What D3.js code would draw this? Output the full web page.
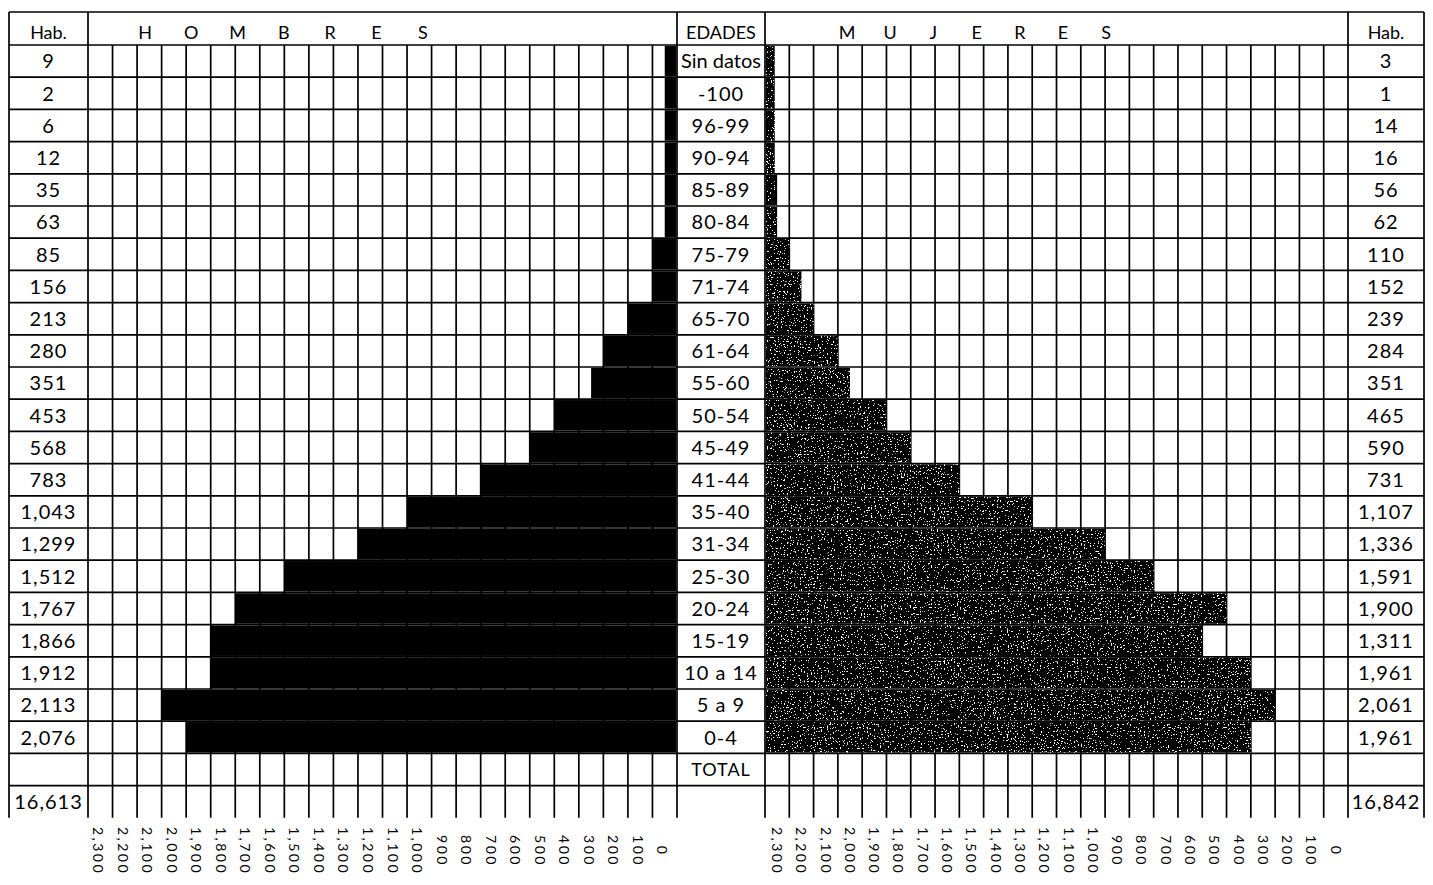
<!DOCTYPE html>
<html>
<head>
<meta charset="utf-8">
<script src="https://cdn.jsdelivr.net/npm/d3@7"></script>
<style>
    body { margin: 0; background: #fff; }
    text { font-family: Lato, "Open Sans", sans-serif; font-weight: 400; fill: #000; }
</style>
</head>
<body>
<div id="chart"></div>
<script>
// grupos de edad (de arriba hacia abajo)
var ages = ["Sin datos", "-100", "96-99", "90-94", "85-89", "80-84", "75-79", "71-74", "65-70",
    "61-64", "55-60", "50-54", "45-49", "41-44", "35-40", "31-34", "25-30", "20-24", "15-19",
    "10 a 14", "5 a 9", "0-4"];

// habitantes escritos en las columnas Hab.
var menHab = [9, 2, 6, 12, 35, 63, 85, 156, 213, 280, 351, 453, 568, 783, 1043, 1299, 1512,
    1767, 1866, 1912, 2113, 2076];
var womenHab = [3, 1, 14, 16, 56, 62, 110, 152, 239, 284, 351, 465, 590, 731, 1107, 1336, 1591,
    1900, 1311, 1961, 2061, 1961];

// largo de las barras tal como estan dibujadas
var menBar = [50, 50, 50, 50, 50, 50, 100, 100, 200, 300, 350, 500, 600, 800, 1100, 1300, 1600,
    1800, 1900, 1900, 2100, 2000];
var womenBar = [40, 40, 40, 40, 50, 50, 100, 150, 200, 300, 350, 500, 600, 800, 1100, 1400, 1600,
    1900, 1800, 2000, 2100, 2000];

var menTotal = 16613;
var womenTotal = 16842;

// etiquetas de la escala inferior
var tickLabels = [2300, 2200, 2100, 2000, 1900, 1800, 1700, 1600, 1500, 1400, 1300, 1200, 1100,
    1000, 900, 800, 700, 600, 500, 400, 300, 200, 100, 0];

(function() {
    var W = 1433, H = 885;
    var left = 9, habW = 79, centerL = 677, centerR = 765, rightHab = 1348, right = 1424;
    var topY = 12, headH = 33, rowH = 32.2;
    var lw = 1.7;
    var fmt = d3.format(",");

    var svg = d3.select("#chart").append("svg")
        .attr("width", W)
        .attr("height", H);

    // textura de la mitad mujeres
    var defs = svg.append("defs");
    var filter = defs.append("filter").attr("id", "speckle")
        .attr("x", 0).attr("y", 0).attr("width", 1).attr("height", 1);
    filter.append("feTurbulence").attr("type", "fractalNoise").attr("baseFrequency", 0.7)
        .attr("numOctaves", 2).attr("seed", 7).attr("result", "n");
    filter.append("feColorMatrix").attr("in", "n").attr("type", "matrix")
        .attr("values", "0 0 0 0 1  0 0 0 0 1  0 0 0 0 1  0 0 0 -24 8.3").attr("result", "spots");
    filter.append("feComposite").attr("in", "spots").attr("in2", "SourceGraphic").attr("operator", "atop");

    // escalas
    var xMen = d3.scaleLinear().domain([0, 2400]).range([centerL, left + habW]);
    var xWomen = d3.scaleLinear().domain([0, 2400]).range([centerR, rightHab]);
    var rows = ages.concat(["TOTAL"]);
    var y = d3.scaleBand().domain(rows).range([topY + headH, topY + headH + rows.length * rowH]);
    var gridTop = topY + headH;
    var gridBottom = y.range()[1];
    var bottomRow = gridBottom + rowH;

    var cols = d3.range(0, 2401, 100);

    // cuadricula
    var grid = svg.append("g").attr("class", "grid")
        .attr("stroke", "#000").attr("stroke-width", lw).attr("fill", "none");

    // lineas horizontales
    var hLines = [topY, gridTop].concat(rows.map(function(d) { return y(d) + y.bandwidth(); }));
    grid.selectAll(".h")
        .data(hLines)
        .enter()
        .append("line")
        .attr("class", "h")
        .attr("x1", left).attr("x2", right)
        .attr("y1", function(d) { return d; }).attr("y2", function(d) { return d; });

    // lineas verticales de los paneles
    grid.selectAll(".vm")
        .data(cols.slice(1, -1))
        .enter()
        .append("line")
        .attr("class", "vm")
        .attr("x1", function(d) { return xMen(d); }).attr("x2", function(d) { return xMen(d); })
        .attr("y1", gridTop).attr("y2", bottomRow);
    grid.selectAll(".vw")
        .data(cols.slice(1, -1))
        .enter()
        .append("line")
        .attr("class", "vw")
        .attr("x1", function(d) { return xWomen(d); }).attr("x2", function(d) { return xWomen(d); })
        .attr("y1", gridTop).attr("y2", bottomRow);

    // bordes principales
    grid.selectAll(".vb")
        .data([left, left + habW, centerL, centerR, rightHab, right])
        .enter()
        .append("line")
        .attr("class", "vb")
        .attr("x1", function(d) { return d; }).attr("x2", function(d) { return d; })
        .attr("y1", topY).attr("y2", bottomRow);

    //barras hombres (negro)
    svg.append("g")
        .attr("class", "men")
        .selectAll("rect")
        .data(ages)
        .enter()
        .append("rect")
        .attr("x", function(d, i) { return xMen(menBar[i]); })
        .attr("y", function(d) { return y(d) + lw / 2; })
        .attr("width", function(d, i) { return xMen(0) - xMen(menBar[i]) - lw / 2; })
        .attr("height", y.bandwidth() - lw)
        .attr("fill", "#000");

    //barras mujeres (negro punteado)
    svg.append("g")
        .attr("class", "women")
        .attr("filter", "url(#speckle)")
        .selectAll("rect")
        .data(ages)
        .enter()
        .append("rect")
        .attr("x", xWomen(0) + lw / 2)
        .attr("y", function(d) { return y(d) + lw / 2; })
        .attr("width", function(d, i) { return xWomen(womenBar[i]) - xWomen(0) - lw / 2; })
        .attr("height", y.bandwidth() - lw)
        .attr("fill", "#000");

    // encabezado
    var head_g = svg.append("g").attr("class", "head").style("font-size", "18px");
    head_g.append("text").attr("x", left + habW / 2).attr("y", topY + 27)
        .attr("text-anchor", "middle").text("Hab.");
    head_g.append("text").attr("x", (rightHab + right) / 2).attr("y", topY + 27)
        .attr("text-anchor", "middle").text("Hab.");
    head_g.append("text").attr("x", (centerL + centerR) / 2).attr("y", topY + 27)
        .attr("text-anchor", "middle").text("EDADES");

    head_g.selectAll(".hm")
        .data("HOMBRES".split(""))
        .enter()
        .append("text")
        .attr("class", "hm")
        .attr("x", function(d, i) { return 145 + i * 46.3; })
        .attr("y", topY + 27)
        .attr("text-anchor", "middle")
        .text(function(d) { return d; });
    head_g.selectAll(".mu")
        .data("MUJERES".split(""))
        .enter()
        .append("text")
        .attr("class", "mu")
        .attr("x", function(d, i) { return 847 + i * 43.2; })
        .attr("y", topY + 27)
        .attr("text-anchor", "middle")
        .text(function(d) { return d; });

    // textos de filas
    var txt_g = svg.append("g").style("font-size", "20px").style("letter-spacing", "1px");
    txt_g.selectAll(".age")
        .data(rows)
        .enter()
        .append("text")
        .attr("class", "age")
        .attr("x", (centerL + centerR) / 2)
        .attr("y", function(d) { return y(d) + y.bandwidth() / 2; })
        .attr("dy", "0.36em")
        .attr("text-anchor", "middle")
        .style("font-size", function(d) { return d === "TOTAL" ? "18px" : null; })
        .style("letter-spacing", function(d) { return d === "Sin datos" ? "0px" : null; })
        .text(function(d) { return d; });

    txt_g.selectAll(".mh")
        .data(menHab)
        .enter()
        .append("text")
        .attr("class", "mh")
        .attr("x", left + habW / 2)
        .attr("y", function(d, i) { return y(ages[i]) + y.bandwidth() / 2; })
        .attr("dy", "0.36em")
        .attr("text-anchor", "middle")
        .text(function(d) { return fmt(d); });

    txt_g.selectAll(".wh")
        .data(womenHab)
        .enter()
        .append("text")
        .attr("class", "wh")
        .attr("x", (rightHab + right) / 2)
        .attr("y", function(d, i) { return y(ages[i]) + y.bandwidth() / 2; })
        .attr("dy", "0.36em")
        .attr("text-anchor", "middle")
        .text(function(d) { return fmt(d); });

    // totales
    txt_g.append("text")
        .attr("x", left + habW / 2)
        .attr("y", gridBottom + rowH / 2)
        .attr("dy", "0.36em")
        .attr("text-anchor", "middle")
        .text(fmt(menTotal));
    txt_g.append("text")
        .attr("x", (rightHab + right) / 2)
        .attr("y", gridBottom + rowH / 2)
        .attr("dy", "0.36em")
        .attr("text-anchor", "middle")
        .text(fmt(womenTotal));

    // escala inferior (texto vertical)
    var axis_g = svg.append("g").style("font-size", "14px").style("letter-spacing", "2.5px");
    axis_g.selectAll(".tm")
        .data(tickLabels)
        .enter()
        .append("text")
        .attr("class", "tm")
        .attr("text-anchor", "middle")
        .attr("transform", function(d) { return "translate(" + (xMen(d + 100) + 5) + ",851) rotate(90)"; })
        .text(function(d) { return fmt(d); });
    axis_g.selectAll(".tw")
        .data(tickLabels)
        .enter()
        .append("text")
        .attr("class", "tw")
        .attr("text-anchor", "middle")
        .attr("transform", function(d) { return "translate(" + (xWomen(2300 - d) + 7) + ",851) rotate(90)"; })
        .text(function(d) { return fmt(d); });
})();
</script>
</body>
</html>
